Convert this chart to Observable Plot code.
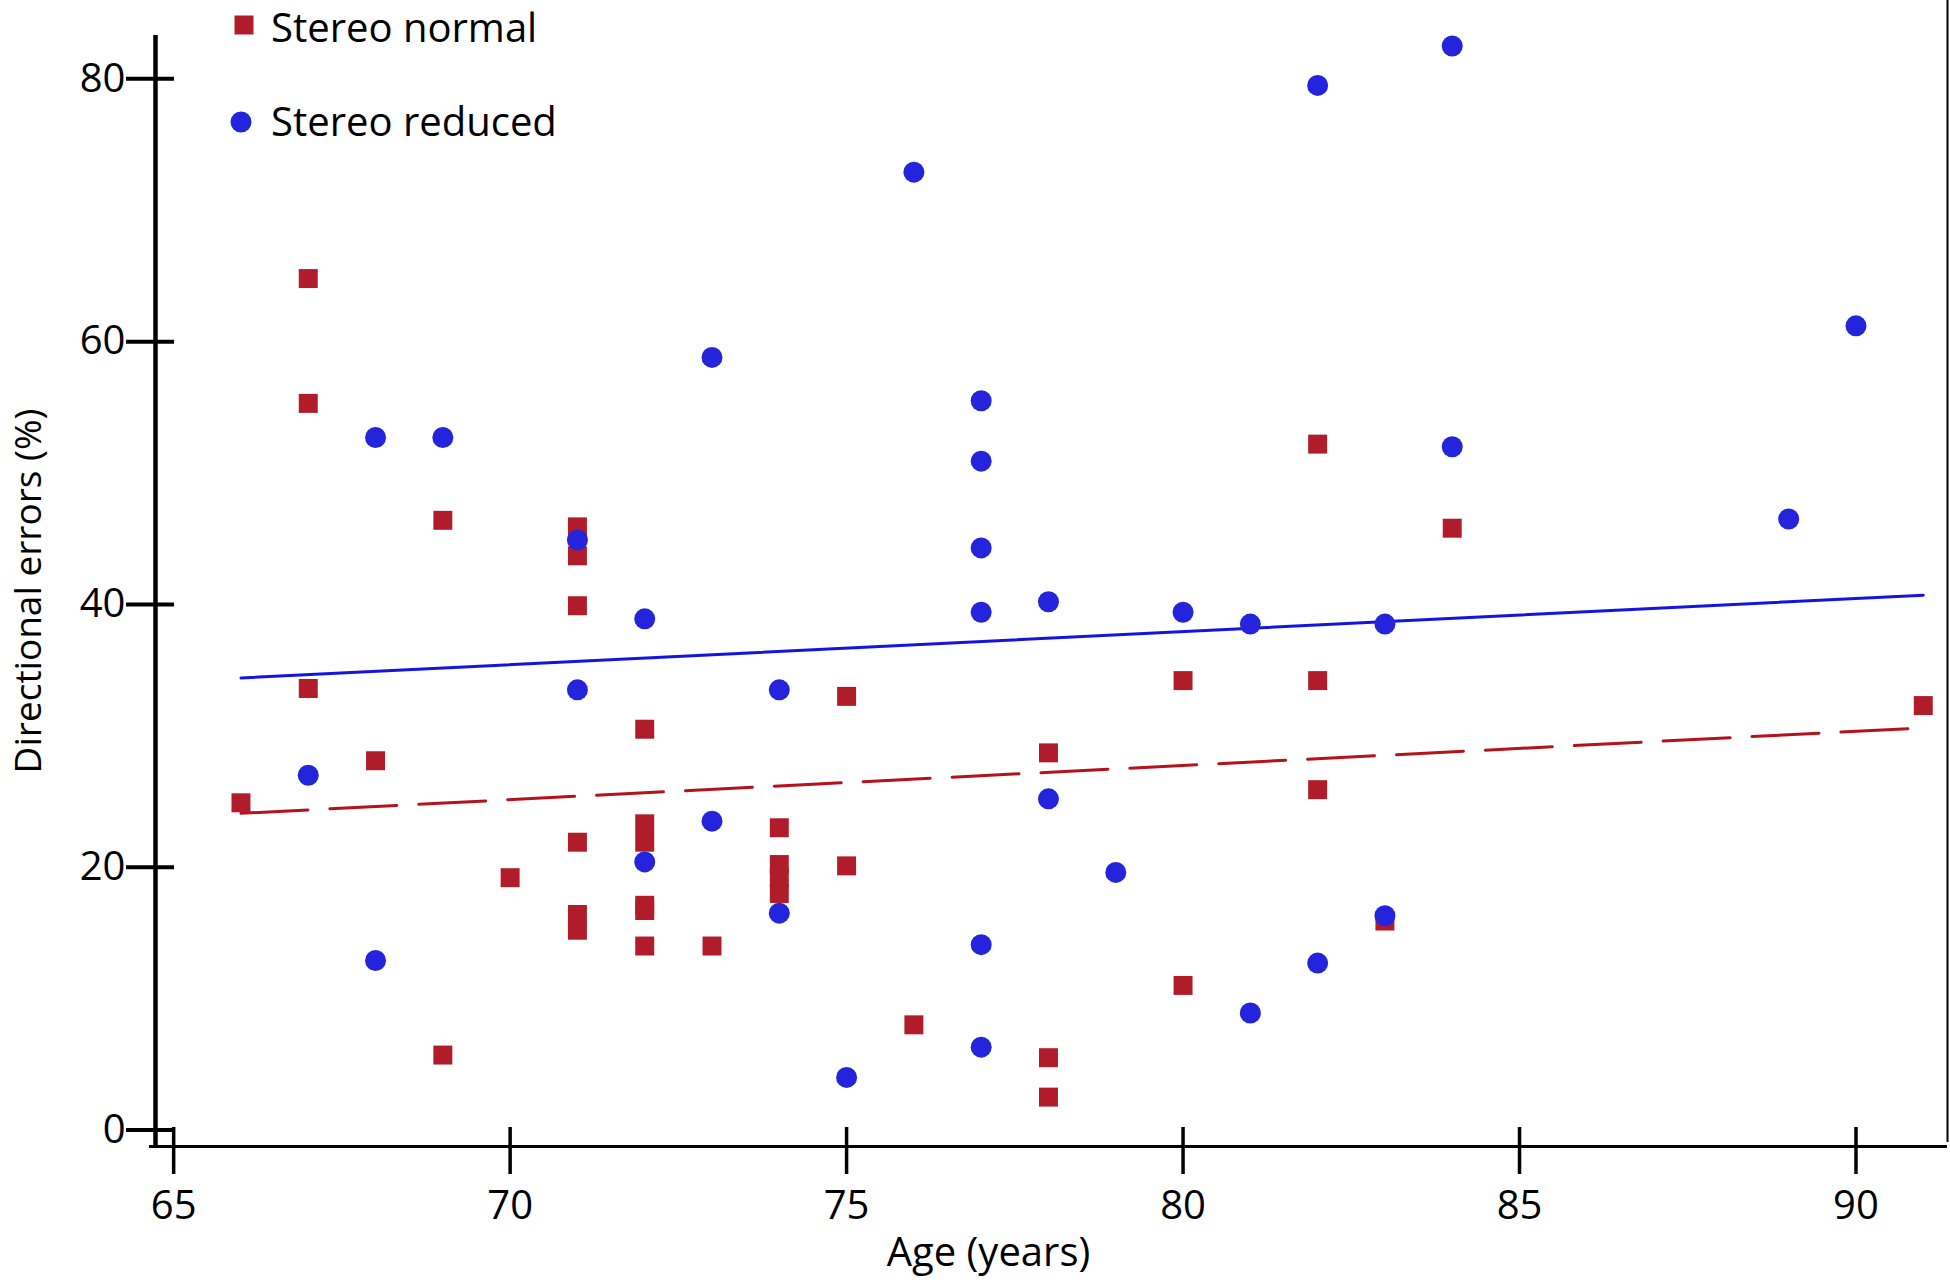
<!DOCTYPE html>
<html><head><meta charset="utf-8">
<script src="https://cdn.jsdelivr.net/npm/d3@7"></script>
<script src="https://cdn.jsdelivr.net/npm/@observablehq/plot@0.6"></script>
<style>
html,body{margin:0;padding:0;background:#fff;}
#wrap{position:relative;width:1950px;height:1287px;font-family:"Open Sans",Lato,sans-serif;color:#000;}
.leg{position:absolute;font-size:40px;line-height:40px;white-space:nowrap;}
.sw{position:absolute;}
</style></head><body><div id="wrap"></div>
<script>
// Stereo normal (red squares)
const normalAge = [66,67,67,67,68,69,69,70,71,71,71,71,71,71,72,72,72,72,72,72,73,74,74,74,74,75,75,76,78,78,78,80,80,82,82,82,83,84,91];
const normalErr = [24.9,64.8,55.3,33.6,28.1,46.4,5.7,19.2,45.9,43.7,39.9,21.9,16.4,15.2,30.5,23.3,21.9,17.1,16.7,14.0,14.0,23.0,20.2,19.2,18.0,33.0,20.1,8.0,28.7,5.5,2.5,34.2,11.0,52.2,34.2,25.9,15.9,45.8,32.3];
// Stereo reduced (blue circles)
const reducedAge = [67,68,68,69,71,71,72,72,73,73,74,74,75,76,77,77,77,77,77,77,78,78,79,80,81,81,82,82,83,83,84,84,89,90];
const reducedErr = [27.0,52.7,12.9,52.7,44.9,33.5,38.9,20.4,58.8,23.5,33.5,16.5,4.0,72.9,55.5,50.9,44.3,39.4,14.1,6.3,40.2,25.2,19.6,39.4,38.5,8.9,79.5,12.7,38.5,16.3,82.5,52.0,46.5,61.2];
// Fitted lines (end points)
const fitAge = [66, 91];
const fitNormal = [24.1, 30.6];
const fitReduced = [34.4, 40.7];
const xTicks = [65,70,75,80,85,90];
const yTicks = [0,20,40,60,80];
const seriesNames = ["Stereo normal","Stereo reduced"];
const xTitle = "Age (years)";
const yTitle = "Directional errors (%)";

const red = "#B01C2A", blue = "#2424DC";
const normal = normalAge.map((a,i)=>({age:a, err:normalErr[i]}));
const reduced = reducedAge.map((a,i)=>({age:a, err:reducedErr[i]}));
const fitN = fitAge.map((a,i)=>({age:a, err:fitNormal[i]}));
const fitR = fitAge.map((a,i)=>({age:a, err:fitReduced[i]}));

const xDomain = [64.73, 91.36], yDomain = [-1.26, 83.3];
const chart = Plot.plot({
  width:1950, height:1287,
  marginLeft:155, marginRight:3, marginTop:35, marginBottom:141,
  style:{fontFamily:'"Open Sans",Lato,sans-serif', fontSize:"40px", color:"#000", background:"#fff", overflow:"visible"},
  x:{domain:xDomain, ticks:xTicks},
  y:{domain:yDomain, ticks:yTicks},
  marks:[
    Plot.ruleX([xDomain[1]], {stroke:"#000", strokeWidth:2, insetTop:-35, insetBottom:4}),
    Plot.line(fitN, {x:"age", y:"err", stroke:"#B5121B", strokeWidth:3, strokeDasharray:"67 22"}),
    Plot.line(fitR, {x:"age", y:"err", stroke:"#1414E0", strokeWidth:3}),
    Plot.dot(normal, {x:"age", y:"err", symbol:"square", r:10.7, fill:red}),
    Plot.dot(reduced, {x:"age", y:"err", r:10.5, fill:blue}),
    Plot.ruleX([xDomain[0]], {stroke:"#000", strokeWidth:4.5}),
    Plot.ruleY([yDomain[0]], {stroke:"#000", strokeWidth:3, insetLeft:-6}),
    // crossing tick marks
    Plot.ruleX(xTicks, {x:d=>d, y1:yDomain[0], y2:yDomain[0], insetTop:-19, insetBottom:-28, stroke:"#000", strokeWidth:3.5}),
    Plot.ruleY(yTicks, {y:d=>d, x1:xDomain[0], x2:xDomain[0], insetLeft:-29, insetRight:-19, stroke:"#000", strokeWidth:4}),
    Plot.axisX(xTicks, {tickSize:0, tickPadding:44, label:null}),
    Plot.axisY(yTicks, {tickSize:0, tickPadding:30, label:null}),
    Plot.text([xTitle], {frameAnchor:"bottom", dx:-63, dy:119, fontSize:40}),
    Plot.text([yTitle], {frameAnchor:"left", textAnchor:"middle", dx:-126, rotate:-90, fontSize:37})
  ]
});
const wrap = document.getElementById("wrap");
wrap.appendChild(chart);

// legend
function addLegend(name, color, shape, cx, cy, tx, ty){
  const ns="http://www.w3.org/2000/svg";
  const s=document.createElementNS(ns,"svg");
  s.setAttribute("width",24); s.setAttribute("height",24);
  s.setAttribute("class","sw");
  s.style.left=(cx-12)+"px"; s.style.top=(cy-12)+"px";
  let el;
  if(shape==="square"){ el=document.createElementNS(ns,"rect"); el.setAttribute("x",2.5); el.setAttribute("y",2.5); el.setAttribute("width",19); el.setAttribute("height",19); }
  else { el=document.createElementNS(ns,"circle"); el.setAttribute("cx",12); el.setAttribute("cy",12); el.setAttribute("r",10.5); }
  el.setAttribute("fill",color); s.appendChild(el); wrap.appendChild(s);
  const d=document.createElement("div"); d.className="leg"; d.textContent=name;
  d.style.left=tx+"px"; d.style.top=ty+"px"; wrap.appendChild(d);
}
addLegend(seriesNames[0], red, "square", 244, 25, 271, 7);
addLegend(seriesNames[1], blue, "circle", 241, 122, 271, 101);
</script></body></html>
